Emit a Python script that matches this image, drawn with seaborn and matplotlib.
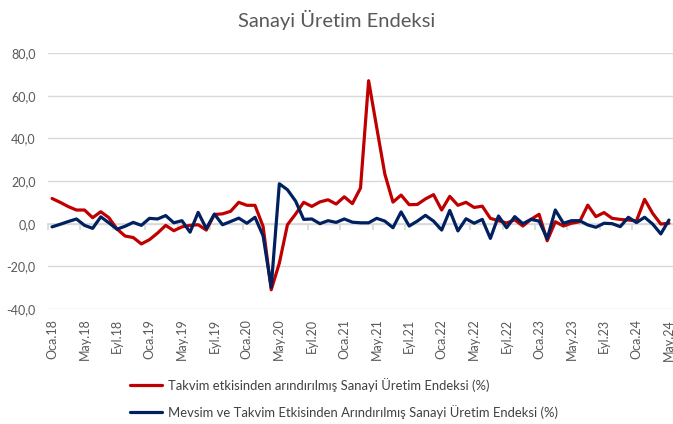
import numpy as np
import pandas as pd
import matplotlib
matplotlib.use("Agg")
import matplotlib.pyplot as plt
import seaborn as sns

# aylik yillik degisim (%), Oca.18 - May.24
takvim = [11.8, 10.0, 8.0, 6.4, 6.4, 2.8, 5.6, 2.8, -2.5, -5.8,
          -6.5, -9.5, -7.5, -4.4, -0.8, -3.3, -1.5, -0.8, -0.5, -3.0,
          4.3, 4.6, 5.8, 10.0, 8.6, 8.6, -1.3, -31.0, -18.5, -0.5,
          4.5, 10.0, 8.1, 10.2, 11.2, 9.2, 12.6, 9.4, 16.7, 67.0,
          45.0, 23.2, 10.1, 13.4, 8.9, 9.0, 11.6, 13.6, 6.4, 12.8,
          8.6, 10.0, 7.6, 8.2, 2.5, 1.4, 0.3, 1.8, -1.1, 2.0,
          4.4, -8.0, 0.9, -1.1, 0.2, 0.9, 8.7, 3.3, 5.2, 2.5,
          2.0, 1.7, 1.3, 11.4, 4.8, -0.2, 0.2]
mevsim = [-1.5, -0.3, 1.0, 2.2, -0.8, -2.2, 3.2, 0.4, -2.6, -1.2,
          0.6, -0.8, 2.5, 2.2, 3.8, 0.4, 1.4, -4.0, 5.3, -2.3,
          4.5, -0.5, 1.0, 2.6, 0.2, 3.0, -5.7, -29.8, 18.7, 15.9,
          10.6, 2.0, 2.2, 0.0, 1.4, 0.6, 2.2, 0.7, 0.4, 0.4,
          2.5, 1.2, -1.9, 5.5, -1.1, 1.2, 3.9, 1.2, -3.0, 6.2,
          -3.4, 2.3, 0.2, 2.0, -6.9, 3.6, -1.9, 3.3, 0.0, 2.0,
          1.2, -7.0, 6.4, 0.2, 1.4, 1.4, -0.6, -1.7, 0.2, 0.0,
          -1.4, 3.0, 0.5, 3.0, -0.2, -4.8, 1.7]

aylar = ['Oca', 'Şub', 'Mar', 'Nis', 'May', 'Haz', 'Tem', 'Ağu', 'Eyl', 'Eki', 'Kas', 'Ara']
donem = [f"{aylar[k % 12]}.{18 + k // 12}" for k in range(len(takvim))]

seri1 = "Takvim etkisinden arındırılmış Sanayi Üretim Endeksi (%)"
seri2 = "Mevsim ve Takvim Etkisinden Arındırılmış Sanayi Üretim Endeksi (%)"
renkler = {seri1: "#C00000", seri2: "#002060"}

df = pd.DataFrame({"sira": range(len(donem)), seri1: takvim, seri2: mevsim})
df = df.melt(id_vars="sira", var_name="seri", value_name="deger")

sns.set_theme(style="white")
plt.rcParams['font.family'] = ['Lato', 'DejaVu Sans']

fig = plt.figure(figsize=(6.73, 4.24), dpi=100)
ax = fig.add_axes([48 / 673, 1 - 309 / 424, 1 - 48 / 673, (309 - 53) / 424])

sns.lineplot(data=df, x="sira", y="deger", hue="seri", palette=renkler,
             linewidth=2.3, ax=ax, legend=False)

ax.set_xlim(-0.5, len(donem) - 0.5)
ax.set_ylim(-40, 80)
yt = list(range(-40, 81, 20))
ax.set_yticks(yt, labels=[f"{v:.1f}".replace(".", ",") for v in yt])
ax.set_xticks(range(0, len(donem), 4), labels=donem[::4], rotation=90)
ax.tick_params(axis="both", length=0, labelsize=9, labelcolor="#595959")
ax.tick_params(axis="x", pad=7)
ax.tick_params(axis="y", pad=9)
ax.grid(axis="y", color="#d9d9d9", linewidth=1)
ax.grid(axis="x", visible=False)
ax.set_xlabel("")
ax.set_ylabel("")
for s in ax.spines.values():
    s.set_visible(False)

# sifir ekseni ve kucuk tik isaretleri
sec = ax.secondary_xaxis(40 / 120)
sec.set_xticks(np.arange(-0.5, len(donem), 4))
sec.tick_params(axis="x", length=4, color="#d9d9d9", labelbottom=False, labeltop=False)
sec.spines["bottom"].set_color("#d9d9d9")

fig.text(0.5, 1 - 20 / 424, "Sanayi Üretim Endeksi", ha="center", va="center",
         fontsize=14.5, color="#595959")

fig.legend(ax.get_lines()[:2], [seri1, seri2], loc="upper left",
           bbox_to_anchor=(118 / 673, 1 - 366 / 424), frameon=False,
           fontsize=9.4, handlelength=2.5, handletextpad=0.4, labelspacing=1.0,
           labelcolor="#404040")

fig.savefig("out.png", dpi=100)
